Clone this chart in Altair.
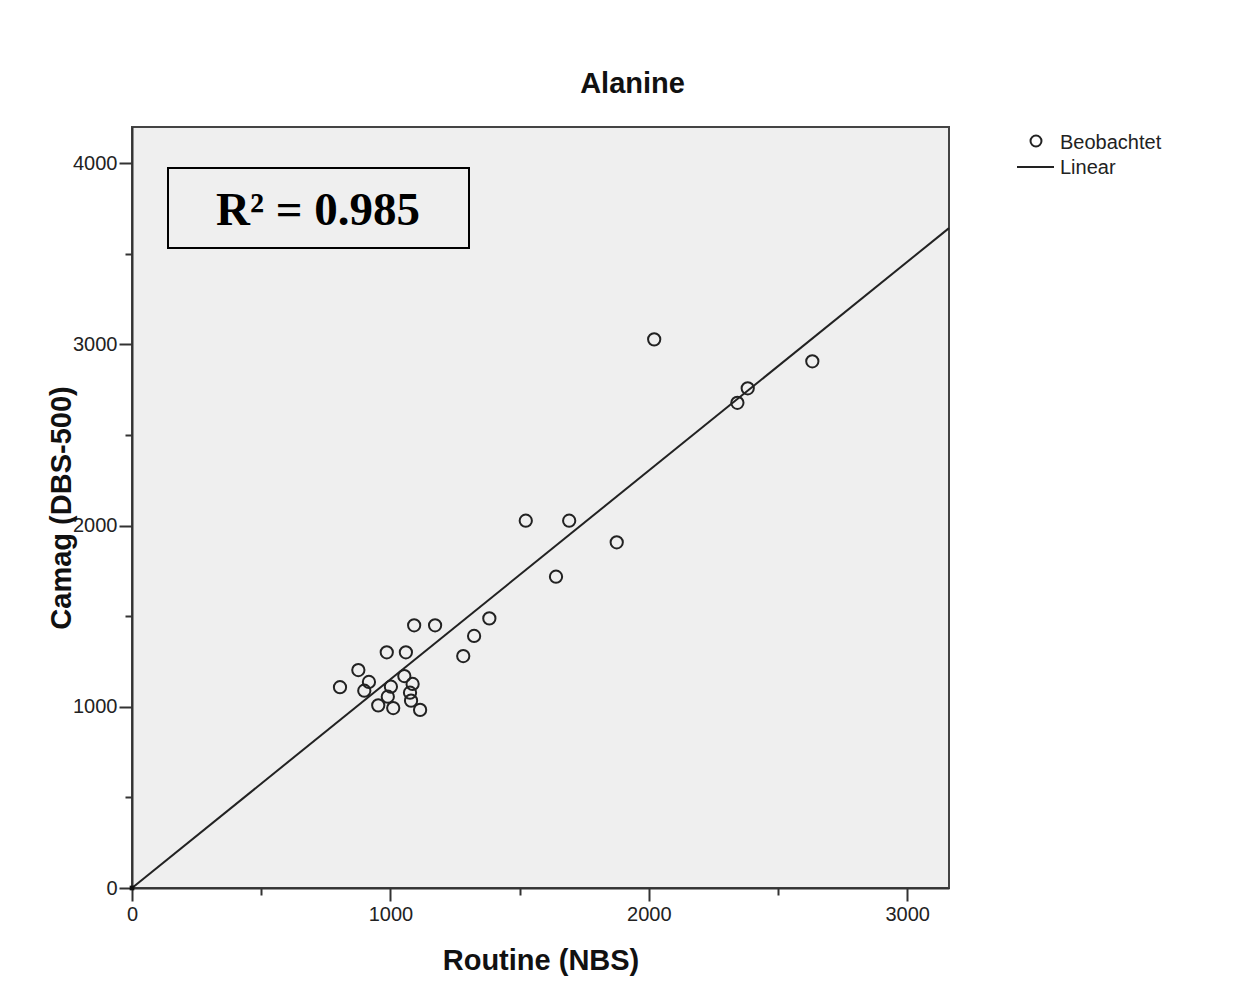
import altair as alt
import pandas as pd

routine = [805, 876, 917, 899, 953, 986, 1060, 1092, 1173, 1054, 1002, 990, 1011, 1086,
           1076, 1080, 1115, 1282, 1324, 1383, 1524, 1692, 1641, 1876, 2021, 2383, 2343, 2633]
camag = [1108, 1203, 1137, 1089, 1008, 1301, 1301, 1450, 1450, 1170, 1111, 1056, 993, 1126,
         1078, 1034, 983, 1280, 1391, 1488, 2027, 2027, 1718, 1908, 3028, 2758, 2678, 2907]

# Linear fit line end points
fit_x = [0, 3162]
fit_y = [0, 3642]

# origin marker
origin_x = [0]
origin_y = [0]

x_ticks = [0, 500, 1000, 1500, 2000, 2500, 3000]
y_ticks = [0, 500, 1000, 1500, 2000, 2500, 3000, 3500, 4000]
x_domain = [0, 3162]
y_domain = [0, 4200]

legend_labels = ["Beobachtet", "Linear"]
r2_text = ["R\u00b2 = 0.985"]

pts = pd.DataFrame({"x": routine, "y": camag})
fit = pd.DataFrame({"x": fit_x, "y": fit_y})
org = pd.DataFrame({"x": origin_x, "y": origin_y})

tick_cond = {"condition": {"test": "datum.value % 1000 === 0", "value": 13}, "value": 7}
lab_expr = "datum.value % 1000 === 0 ? datum.label : ''"

x_enc = alt.X("x:Q", scale=alt.Scale(domain=x_domain, nice=False, zero=False),
              axis=alt.Axis(values=x_ticks, format="d", labelExpr=lab_expr, tickSize=tick_cond,
                            labelFlush=False,
                            title="Routine (NBS)", labelPadding=3, titlePadding=22))
y_enc = alt.Y("y:Q", scale=alt.Scale(domain=y_domain, nice=False, zero=False),
              axis=alt.Axis(values=y_ticks, format="d", labelExpr=lab_expr, tickSize=tick_cond,
                            labelFlush=False,
                            title="Camag (DBS-500)", labelPadding=2, titlePadding=-4))

points = alt.Chart(pts).mark_point(shape="circle", filled=False, size=150, strokeWidth=2,
                                   color="#222222", opacity=1).encode(x=x_enc, y=y_enc)

line = alt.Chart(fit).mark_line(color="#222222", strokeWidth=2).encode(x="x:Q", y="y:Q")

origin = alt.Chart(org).mark_square(size=22, color="#111111", opacity=1).encode(x="x:Q", y="y:Q")

# R² annotation box
box = alt.Chart(pd.DataFrame({"label": r2_text})).mark_rect(
    fillOpacity=0, stroke="black", strokeWidth=2
).encode(x=alt.value(36), x2=alt.value(337), y=alt.value(41), y2=alt.value(121))

r2 = alt.Chart(pd.DataFrame({"label": r2_text})).mark_text(
    font="Liberation Serif", fontWeight="bold", fontSize=47, color="black",
    align="center", baseline="middle"
).encode(x=alt.value(186), y=alt.value(84), text="label:N")

# Manual legend
leg1 = pd.DataFrame({"label": [legend_labels[0]]})
leg2 = pd.DataFrame({"label": [legend_labels[1]]})
leg_pt = alt.Chart(leg1).mark_point(shape="circle", filled=False, size=120, strokeWidth=2,
                                    color="#222222", opacity=1).encode(
    x=alt.value(904), y=alt.value(14))
leg_t1 = alt.Chart(leg1).mark_text(font="Liberation Sans", fontSize=20, color="#222222",
                                   align="left", baseline="middle").encode(
    x=alt.value(928), y=alt.value(16), text="label:N")
leg_ln = alt.Chart(leg2).mark_rule(color="#222222", strokeWidth=2).encode(
    x=alt.value(885), x2=alt.value(922), y=alt.value(40))
leg_t2 = alt.Chart(leg2).mark_text(font="Liberation Sans", fontSize=20, color="#222222",
                                   align="left", baseline="middle").encode(
    x=alt.value(928), y=alt.value(41), text="label:N")

chart = alt.layer(points, line, origin, box, r2, leg_pt, leg_t1, leg_ln, leg_t2).properties(
    width=817, height=761,
    background="white",
    title=alt.TitleParams("Alanine", font="Liberation Sans", fontSize=29, fontWeight="bold",
                          color="#111111", anchor="middle", dx=92, offset=28),
    autosize=alt.AutoSizeParams(type="none"),
    padding={"left": 124, "top": 119, "right": 280, "bottom": 100},
).configure_view(
    stroke="#444444", strokeWidth=2, fill="#efefef"
).configure_axis(
    grid=False, domainColor="#333333", domainWidth=2, tickColor="#333333", tickWidth=2,
    labelFont="Liberation Sans", labelFontSize=20, labelColor="#222222",
    titleFont="Liberation Sans", titleFontSize=29, titleFontWeight="bold", titleColor="#111111"
)

chart.save("out.html", embed_options={"renderer": "svg", "actions": False})
